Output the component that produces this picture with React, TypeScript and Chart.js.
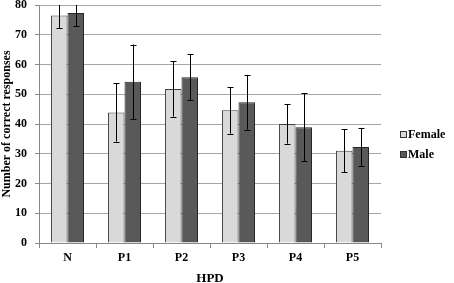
import React, { useEffect, useRef } from "react";
import { Chart, registerables } from "chart.js";

Chart.register(...registerables);

const categories = ["N", "P1", "P2", "P3", "P4", "P5"];
const femaleValues = [76.5, 43.9, 51.8, 44.6, 40.0, 31.0];
const femaleErrors = [4.2, 9.8, 9.3, 7.8, 6.6, 7.3];
const maleValues = [77.3, 54.2, 55.7, 47.3, 38.9, 32.3];
const maleErrors = [4.4, 12.5, 7.8, 9.2, 11.5, 6.4];
const seriesNames = ["Female", "Male"];
const errorsBySeries = [femaleErrors, maleErrors];

const FONT = "'Liberation Serif', 'Times New Roman', serif";

const errorBarPlugin = {
  id: "errorBars",
  afterDatasetsDraw(chart: any) {
    const { ctx, chartArea } = chart;
    const yScale = chart.scales.y;
    ctx.save();
    ctx.beginPath();
    ctx.rect(chartArea.left, chartArea.top, chartArea.right - chartArea.left, chartArea.bottom - chartArea.top);
    ctx.clip();
    ctx.strokeStyle = "#000";
    ctx.lineWidth = 1;
    chart.data.datasets.forEach((ds: any, di: number) => {
      const meta = chart.getDatasetMeta(di);
      const errs = errorsBySeries[di];
      meta.data.forEach((bar: any, i: number) => {
        const v = ds.data[i];
        const e = errs[i];
        const x = Math.round(bar.x) + 0.5;
        const yTop = yScale.getPixelForValue(v + e);
        const yBot = yScale.getPixelForValue(v - e);
        ctx.beginPath();
        ctx.moveTo(x, yTop);
        ctx.lineTo(x, yBot);
        ctx.moveTo(x - 3, Math.round(yTop) + 0.5);
        ctx.lineTo(x + 3, Math.round(yTop) + 0.5);
        ctx.moveTo(x - 3, Math.round(yBot) + 0.5);
        ctx.lineTo(x + 3, Math.round(yBot) + 0.5);
        ctx.stroke();
      });
    });
    ctx.restore();
  },
};

const legendPlugin = {
  id: "customLegend",
  afterDraw(chart: any) {
    const { ctx } = chart;
    ctx.save();
    ctx.font = `bold 12px ${FONT}`;
    ctx.textBaseline = "middle";
    ctx.textAlign = "left";
    const ys = [135, 155];
    chart.data.datasets.forEach((ds: any, i: number) => {
      const y = ys[i];
      ctx.fillStyle = ds.backgroundColor;
      ctx.fillRect(400.5, y - 3.5, 6, 6);
      ctx.strokeStyle = "#333";
      ctx.lineWidth = 1;
      ctx.strokeRect(400.5, y - 3.5, 6, 6);
      ctx.fillStyle = "#000";
      ctx.fillText(seriesNames[i], 408, y);
    });
    ctx.restore();
  },
};

export default function App() {
  const ref = useRef<HTMLCanvasElement>(null);
  useEffect(() => {
    if (!ref.current) return;
    const chart = new Chart(ref.current, {
      type: "bar",
      data: {
        labels: categories,
        datasets: [
          {
            label: seriesNames[0],
            data: femaleValues,
            backgroundColor: "#d9d9d9",
            borderColor: "#404040",
            borderWidth: 1,
            barPercentage: 1,
            categoryPercentage: 0.58,
          },
          {
            label: seriesNames[1],
            data: maleValues,
            backgroundColor: "#595959",
            borderColor: "#262626",
            borderWidth: 1,
            barPercentage: 1,
            categoryPercentage: 0.58,
          },
        ],
      },
      options: {
        animation: false,
        responsive: false,
        maintainAspectRatio: false,
        layout: { padding: { top: 5, right: 73, left: 0, bottom: 0 } },
        plugins: {
          legend: { display: false },
          tooltip: { enabled: false },
        },
        scales: {
          x: {
            afterFit: (s: any) => {
              s.height = 40;
              s.paddingLeft = 0;
              s.paddingRight = 0;
            },
            grid: {
              drawOnChartArea: false,
              drawTicks: true,
              tickLength: 5,
              tickColor: "#888",
              offset: true,
            },
            border: { color: "#888", width: 1 },
            ticks: {
              color: "#000",
              padding: 3,
              font: { family: FONT, size: 12, weight: "bold" },
            },
            title: {
              display: true,
              text: "HPD",
              color: "#000",
              padding: { top: 4, bottom: -3 },
              font: { family: FONT, size: 13, weight: "bold" },
            },
          },
          y: {
            min: 0,
            max: 80,
            afterFit: (s: any) => {
              s.width = 39;
              s.paddingTop = 0;
              s.paddingBottom = 0;
            },
            ticks: {
              stepSize: 10,
              color: "#000",
              padding: 8,
              font: { family: FONT, size: 12, weight: "bold" },
            },
            grid: {
              color: "#a6a6a6",
              lineWidth: 1,
              tickLength: 4,
              tickColor: "#888",
            },
            border: { color: "#888", width: 1 },
            title: {
              display: true,
              text: "Number of correct responses",
              color: "#000",
              padding: { top: 0, bottom: 0 },
              font: { family: FONT, size: 12, weight: "bold" },
            },
          },
        },
      },
      plugins: [errorBarPlugin, legendPlugin],
    });
    return () => chart.destroy();
  }, []);
  return (
    <div style={{ position: "fixed", left: 0, top: 0, width: 454, height: 283, background: "#fff" }}>
      <canvas ref={ref} width={454} height={283} style={{ display: "block" }} />
    </div>
  );
}
